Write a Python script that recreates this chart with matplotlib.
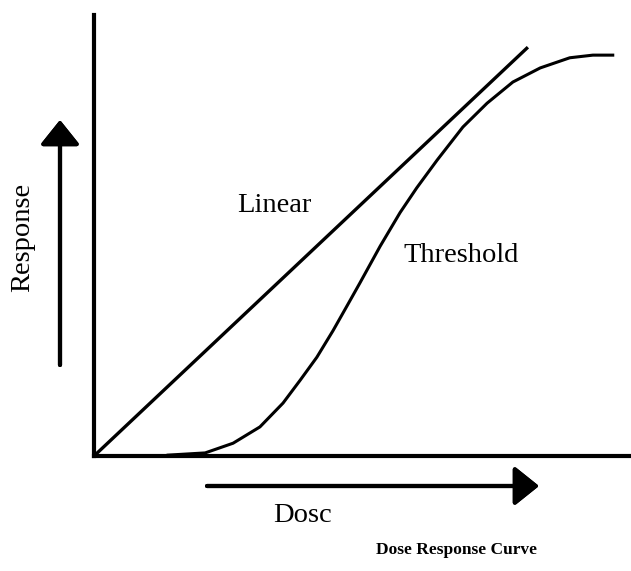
import matplotlib
matplotlib.use("Agg")
import matplotlib.pyplot as plt

plt.rcParams['font.family'] = ['Liberation Serif', 'DejaVu Serif']

# linear model: straight line from origin
linear_dose = [0.0, 8.08]
linear_resp = [0.0, 9.27]

# threshold model: flat, then sigmoid rise, then plateau
thresh_dose = [1.38, 2.07, 2.59, 3.09, 3.52, 3.84, 4.15, 4.45, 4.71, 4.95, 5.33,
               5.70, 6.01, 6.39, 6.87, 7.32, 7.80, 8.31, 8.86, 9.29, 9.66]
thresh_resp = [0.02, 0.07, 0.29, 0.66, 1.20, 1.72, 2.24, 2.84, 3.40, 3.92, 4.76,
               5.52, 6.08, 6.71, 7.46, 8.00, 8.48, 8.80, 9.03, 9.09, 9.09]

W, H = 631, 571
fig = plt.figure(figsize=(W / 100, H / 100), dpi=100)
ax = fig.add_axes([94 / W, (H - 456) / H, (W - 94) / W, (456 - 15) / H])

ax.plot(linear_dose, linear_resp, color='black', lw=2.4, solid_capstyle='butt')
ax.plot(thresh_dose, thresh_resp, color='black', lw=2.2, solid_joinstyle='round')

ax.set_xlim(0, 10)
ax.set_ylim(0, 10)
for s in ['top', 'right']:
    ax.spines[s].set_visible(False)
for s in ['left', 'bottom']:
    ax.spines[s].set_linewidth(3)
ax.set_xticks([])
ax.set_yticks([])

ax.text(3.35, 5.67, 'Linear', fontsize=20.5, ha='center', va='center')
ax.text(6.83, 4.54, 'Threshold', fontsize=20.5, ha='center', va='center')

# direction arrows beside the axes
arrow = dict(arrowstyle='-|>,head_length=1.5,head_width=1.2', color='black',
             lw=3, shrinkA=0, shrinkB=0)
fig.add_artist(plt.annotate('', xy=(60, H - 120), xytext=(60, H - 365),
                            xycoords='figure pixels', textcoords='figure pixels',
                            arrowprops=arrow))
fig.add_artist(plt.annotate('', xy=(539, H - 486), xytext=(207, H - 486),
                            xycoords='figure pixels', textcoords='figure pixels',
                            arrowprops=arrow))

fig.text(23 / W, (H - 237) / H, 'Response', fontsize=20.5, rotation=90,
         ha='center', va='center')
fig.text(303 / W, (H - 516) / H, 'Dosc', fontsize=20.5, ha='center', va='center')
fig.text(457 / W, (H - 550) / H, 'Dose Response Curve', fontsize=12.5,
         fontweight='bold', ha='center', va='center')

fig.savefig('out.png', dpi=100)
